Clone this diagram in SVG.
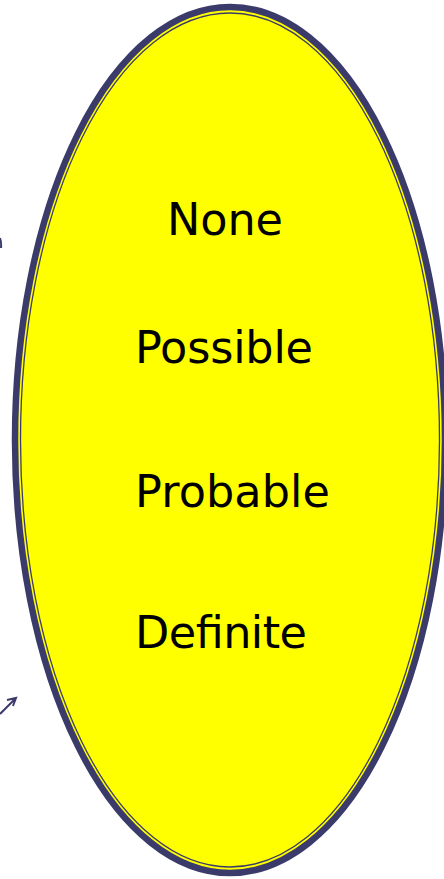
<svg xmlns="http://www.w3.org/2000/svg" width="444" height="879" viewBox="0 0 444 879">
<style>
.lbl{font-family:"DejaVu Sans",Verdana,sans-serif;font-size:44.5px;fill:#000}
.conn{stroke:#3b3b6b;fill:none;stroke-width:2}
</style>
<rect width="444" height="879" fill="#fff"/>
<g id="connectors">
<path class="conn" d="M0,238 Q1.5,242 1,248" stroke-width="3"/>
<path class="conn" d="M0,714 L16,698 M7,700 L16,698 L13,706"/>
</g>
<g id="ellipse-node">
<ellipse cx="230" cy="440" rx="215" ry="433" fill="#ffff00" stroke="#3b3b6b" stroke-width="6.5"/>
<ellipse cx="230" cy="440" rx="209.5" ry="427" fill="none" stroke="#3b3b6b" stroke-width="1.3"/>
</g>
<g id="none"><text class="lbl" x="167" y="235" textLength="116">None</text></g>
<g id="possible"><text class="lbl" x="135" y="363" textLength="178">Possible</text></g>
<g id="probable"><text class="lbl" x="135" y="507" textLength="195">Probable</text></g>
<g id="definite"><text class="lbl" x="135" y="648" textLength="172">Definite</text></g>
</svg>
